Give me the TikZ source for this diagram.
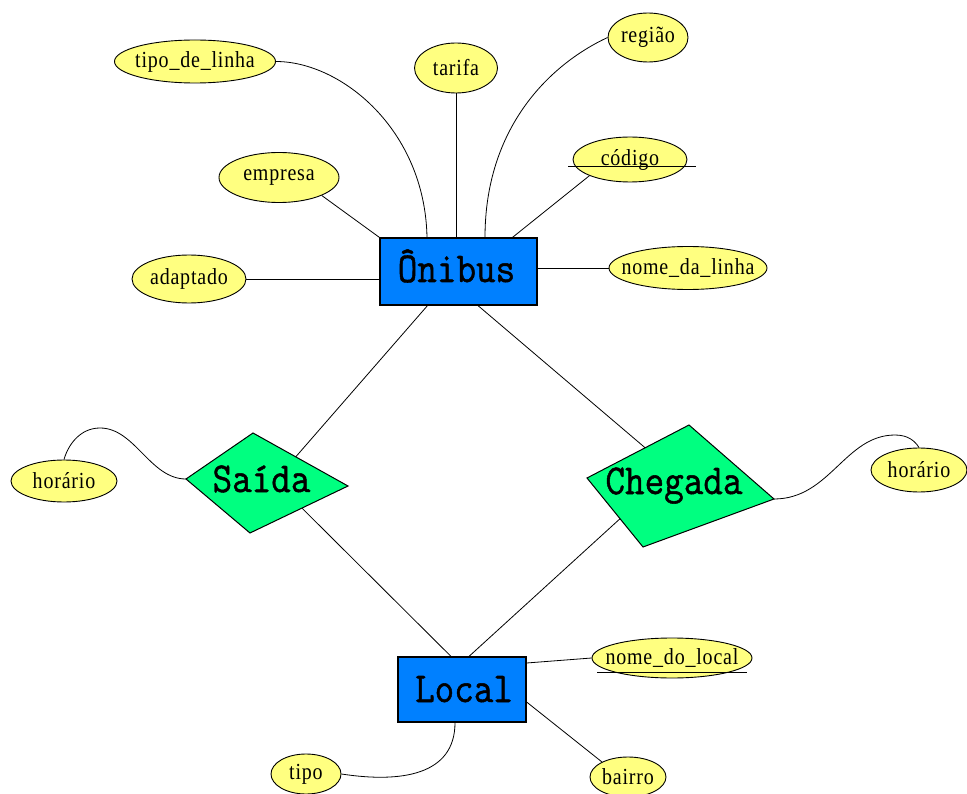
\documentclass[tikz,border=0pt]{standalone}
\usepackage{fontspec}
\usepackage{graphicx}
\usetikzlibrary{shapes.geometric,calc}
\setmainfont{Liberation Serif}
\newfontfamily\attrfont{Liberation Serif}[LetterSpace=4]
\newfontfamily\entfont{Latin Modern Mono}[FakeBold=1.2]
\definecolor{entblue}{RGB}{0,128,255}
\definecolor{relgreen}{RGB}{0,255,128}
\definecolor{attryellow}{RGB}{255,255,128}
% tall monospaced labels for entities and relationships
\newcommand{\erlabel}[1]{\scalebox{1}[1.12]{\entfont\fontsize{38}{38}\selectfont #1}}
% slightly tall serif labels for attributes
\newcommand{\attrlabel}[1]{\scalebox{1}[1.15]{\attrfont\fontsize{20}{20}\selectfont #1}}
\tikzset{
  entity/.style={draw=black, fill=entblue, line width=1.2pt, inner sep=0pt},
  rel/.style={draw=black, fill=relgreen, line width=1pt, line join=miter},
  attr/.style={ellipse, draw=black, fill=attryellow, inner sep=0pt, line width=0.9pt,
    label={[attrtext]center:\attrlabel{#1}}},
  attrtext/.style={inner sep=0pt},
  link/.style={draw=black, line width=0.8pt},
  erlab/.style={anchor=base, inner sep=0pt}
}
\begin{document}
\begin{tikzpicture}[x=1pt,y=-1pt]
\useasboundingbox[fill=white] (0,0) rectangle (967,794);

% entities
\node[entity, minimum width=157, minimum height=67] (oni) at (458.5,271.5) {};
\node[erlab] (oniT) at (456.5,282) {\erlabel{Ônibus}};
\node[entity, minimum width=128, minimum height=65] (loc) at (462,689.5) {};
\node[erlab] (locT) at (464,702) {\erlabel{Local}};

% relationships
\coordinate (sL) at (186,479);
\coordinate (sT) at (253,433);
\coordinate (sR) at (348,486);
\coordinate (sB) at (250,533);
\path[rel] (sL) -- (sT) -- (sR) -- (sB) -- cycle;
\node[erlab] (saida) at (261.5,492) {\erlabel{Saída}};

\coordinate (cL) at (587,478);
\coordinate (cT) at (689,425);
\coordinate (cR) at (774,499);
\coordinate (cB) at (643,547);
\path[rel] (cL) -- (cT) -- (cR) -- (cB) -- cycle;
\node[erlab] (chegada) at (674,494) {\erlabel{Chegada}};

% attributes
\node[attr=tipo\_de\_linha, minimum width=161, minimum height=43] (tdl) at (195,61.5) {};
\node[attr=tarifa, minimum width=83, minimum height=50] (tar) at (456,68) {};
\node[attr=região, minimum width=80, minimum height=49] (reg) at (648,37.5) {};
\node[attr=código, minimum width=114, minimum height=45] (cod) at (630,159.5) {};
\node[attr=empresa, minimum width=120, minimum height=50] (emp) at (279,177.5) {};
\node[attr=adaptado, minimum width=114, minimum height=48] (adap) at (189,279) {};
\node[attr=nome\_da\_linha, minimum width=158, minimum height=43] (nl) at (688,268) {};
\node[attr=horário, minimum width=106, minimum height=42] (hl) at (64,481) {};
\node[attr=horário, minimum width=96, minimum height=44] (hr) at (919,470) {};
\node[attr=nome\_do\_local, minimum width=160, minimum height=40] (ndl) at (672,658) {};
\node[attr=tipo, minimum width=70, minimum height=40] (tipo) at (306,774) {};
\node[attr=bairro, minimum width=76, minimum height=40] (bai) at (628,777) {};

% key underlines
\draw[link] ([xshift=-62,yshift=-6.5]cod.center) -- ([xshift=66,yshift=-6.5]cod.center);
\draw[link] ([xshift=-75,yshift=-14]ndl.center) -- ([xshift=75,yshift=-14]ndl.center);

% attribute links of Ônibus
\draw[link] (adap.east) -- (adap.east -| oni.west);
\draw[link] (oni.east |- nl.west) -- (nl.west);
\draw[link] (emp.south east) -- (oni.north west);
\draw[link] (tar.south) -- (tar.south |- oni.north);
\draw[link] (tdl.east) .. controls +(65,0) and +(-2,-108) .. ([xshift=-31.5]oni.north);
\draw[link] ([xshift=26.5]oni.north) .. controls +(0,-108) and +(-60,28) .. (reg.west);
\draw[link] ([xshift=54]oni.north) -- (cod.south west);

% attribute links of Local
\draw[link] ([yshift=26.5]loc.east) -- (ndl.west);
\draw[link] ([yshift=-12.5]loc.east) -- (bai.150);
\draw[link] ([xshift=-7]loc.south) .. controls +(0,53) and +(59,9) .. (tipo.east);

% relationship links
\coordinate (sOn) at ($(sT)!0.45!(sR)$);
\coordinate (sLo) at ($(sR)!0.47!(sB)$);
\coordinate (cOn) at ($(cL)!0.57!(cT)$);
\coordinate (cLo) at ($(cL)!0.59!(cB)$);
\draw[link] ([xshift=-31]oni.south) -- (sOn);
\draw[link] ([xshift=19.5]oni.south) -- (cOn);
\draw[link] (sLo) -- ([xshift=-11]loc.north);
\draw[link] (cLo) -- ([xshift=7]loc.north);

% attributes of the relationships
\coordinate (hlPeak) at (100,428);
\coordinate (hrPeak) at (895,435);
\draw[link] (sL) .. controls (150,479) and (135,428) .. (hlPeak)
  .. controls (80,428) and (68,445) .. (hl.north);
\draw[link] (cR) .. controls (830,499) and (845,435) .. (hrPeak)
  .. controls (908,435) and (915,441) .. (hr.north);
\end{tikzpicture}
\end{document}
